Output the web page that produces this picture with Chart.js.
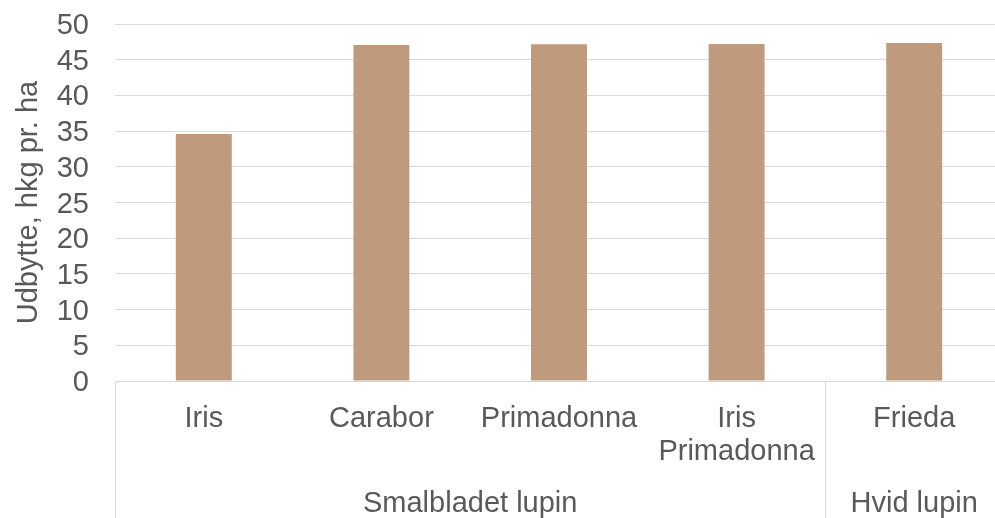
<!DOCTYPE html>
<html>
<head>
<meta charset="utf-8">
<script src="https://cdn.jsdelivr.net/npm/chart.js@4"></script>
<style>
  html, body { margin: 0; padding: 0; background: #fff; overflow: hidden; }
  #wrap { width: 1010px; height: 518px; }
</style>
</head>
<body>
<div id="wrap"><canvas id="yield" width="1010" height="518"></canvas></div>
<script>
// sorter (første niveau) og grupper (andet niveau)
const varieties = [["Iris"], ["Carabor"], ["Primadonna"], ["Iris", "Primadonna"], ["Frieda"]];
const groupNames = ["Smalbladet lupin", "Hvid lupin"];
const groupSizes = [4, 1];
const yieldValues = [34.6, 47.05, 47.15, 47.2, 47.35];
const yTicks = [0, 5, 10, 15, 20, 25, 30, 35, 40, 45, 50];

const FONT = "'Liberation Sans', Arial, sans-serif";
const TEXT = "#595959";
const GRID = "#d9d9d9";

// tegner gruppe-labels og lodrette skillelinjer under x-aksen
const groupAxis = {
  id: "groupAxis",
  afterDraw(chart) {
    const x = chart.scales.x;
    const ctx = chart.ctx;
    const step = x.width / varieties.length;
    const top = x.top;
    const bottom = chart.height;
    ctx.save();
    ctx.strokeStyle = GRID;
    ctx.lineWidth = 1;
    ctx.fillStyle = TEXT;
    ctx.font = "29px " + FONT;
    ctx.textAlign = "center";
    ctx.textBaseline = "middle";
    let start = 0;
    groupSizes.forEach((size, g) => {
      const left = x.getPixelForValue(start) - step / 2;
      const right = x.getPixelForValue(start + size - 1) + step / 2;
      [left, right].forEach((px) => {
        const lx = Math.round(px) + 0.5;
        ctx.beginPath();
        ctx.moveTo(lx, top);
        ctx.lineTo(lx, bottom);
        ctx.stroke();
      });
      ctx.fillText(groupNames[g], (left + right) / 2, 504);
      start += size;
    });
    ctx.restore();
  },
};

new Chart(document.getElementById("yield"), {
  type: "bar",
  data: {
    labels: varieties,
    datasets: [
      {
        label: "Udbytte",
        data: yieldValues,
        backgroundColor: "rgb(191, 154, 125)",
        categoryPercentage: 1,
        barPercentage: 0.315,
      },
    ],
  },
  options: {
    responsive: false,
    animation: false,
    layout: { padding: { top: 24, right: 7, left: 0, bottom: 0 } },
    plugins: { legend: { display: false }, tooltip: { enabled: false } },
    scales: {
      x: {
        grid: { display: false, drawTicks: false },
        border: { color: GRID },
        ticks: {
          color: TEXT,
          font: { family: FONT, size: 29, lineHeight: 1.15 },
          padding: 21,
          maxRotation: 0,
          autoSkip: false,
        },
        afterFit(scale) {
          scale.height = 137;
        },
      },
      y: {
        min: 0,
        max: 50,
        afterBuildTicks(scale) {
          scale.ticks = yTicks.map((v) => ({ value: v }));
        },
        grid: { color: GRID, drawTicks: false },
        border: { display: false },
        ticks: {
          color: TEXT,
          font: { family: FONT, size: 29 },
          padding: 26,
          labelOffset: 2,
          autoSkip: false,
          stepSize: 5,
        },
        title: {
          display: true,
          text: "Udbytte, hkg pr. ha",
          color: TEXT,
          font: { family: FONT, size: 29 },
          padding: { top: 12, bottom: 0 },
        },
        afterFit(scale) {
          scale.width = 115;
          scale.paddingTop = 17;
        },
      },
    },
  },
  plugins: [groupAxis],
});
</script>
</body>
</html>
